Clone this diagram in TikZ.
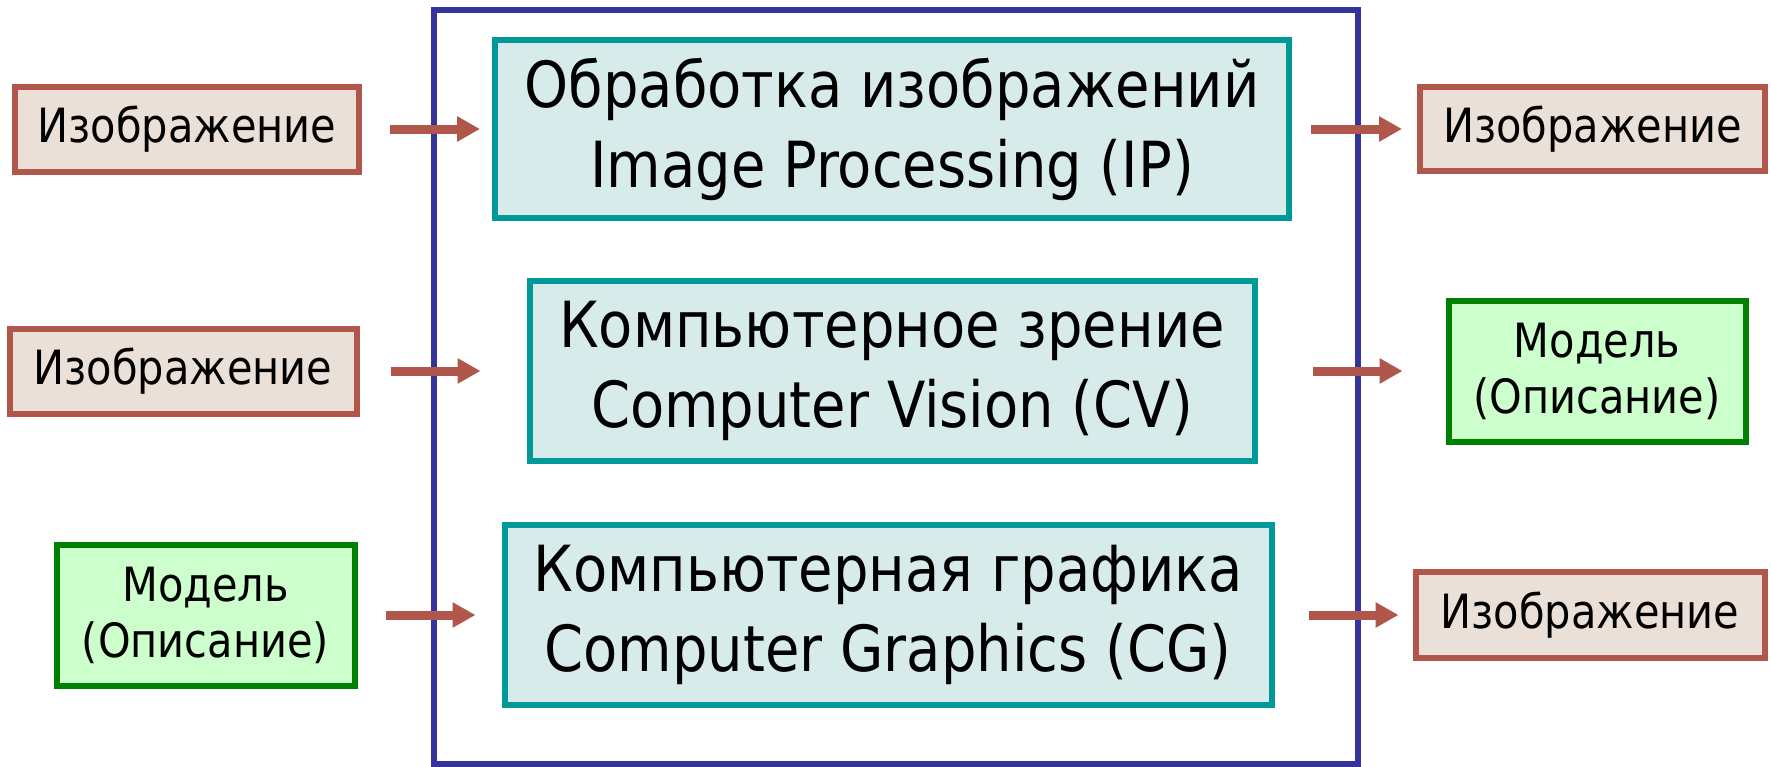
\documentclass[tikz,border=0pt]{standalone}
\usepackage{fontspec}
\setmainfont{DejaVu Sans}[FakeStretch=0.88]
\usetikzlibrary{positioning,arrows.meta}

\definecolor{brickred}{RGB}{176,86,74}
\definecolor{sandfill}{RGB}{235,224,216}
\definecolor{tealline}{RGB}{0,153,153}
\definecolor{tealfill}{RGB}{216,235,235}
\definecolor{greenline}{RGB}{0,128,0}
\definecolor{greenfill}{RGB}{204,255,204}
\definecolor{frameblue}{RGB}{51,51,153}

\tikzset{
  box/.style={draw, rectangle, inner sep=0pt, outer sep=0pt, line width=3pt, align=center},
  img/.style={box, draw=brickred, fill=sandfill, font=\fontsize{23.6pt}{29pt}\selectfont},
  model/.style={box, draw=greenline, fill=greenfill, font=\fontsize{23.6pt}{28pt}\selectfont,
    minimum width=149pt, minimum height=70.5pt},
  proc/.style={box, draw=tealline, fill=tealfill, font=\fontsize{31.8pt}{40pt}\selectfont,
    minimum height=90pt},
  frame/.style={draw=frameblue, line width=2.75pt, inner sep=0pt, outer sep=0pt},
  flow/.style={draw=brickred, line width=4.5pt, -{Triangle[length=11.5pt, width=12pt]}}
}

\begin{document}
\begin{tikzpicture}[x=0.5pt, y=-0.5pt]
    \useasboundingbox (0,0) rectangle (1771,766);
    \node[frame, minimum width=462pt, minimum height=377pt] (frame) at (896,387) {};

    \node[proc, minimum width=397pt, minimum height=89pt] (ip) at (892,129)
      {Обработка изображений\\Image Processing (IP)};
    \node[proc, minimum width=362.5pt, below=31.5pt of ip] (cv)
      {Компьютерное зрение\\Computer Vision (CV)};
    \node[proc, minimum width=383.5pt, below=32pt of cv, xshift=-2pt] (cg)
      {Компьютерная графика\\Computer Graphics (CG)};

    \node[img, minimum width=172pt, minimum height=42.5pt, left=68pt of ip] (imgin1) {Изображение};
    \node[img, minimum width=173.5pt, minimum height=42.5pt, left=86.5pt of cv] (imgin2) {Изображение};
    \node[model, left=75pt of cg] (modelin) {Модель\\(Описание)};

    \node[img, minimum width=172.5pt, minimum height=42pt, right=65.5pt of ip] (imgout1) {Изображение};
    \node[model, minimum width=148.5pt, right=97pt of cv] (modelout) {Модель\\(Описание)};
    \node[img, minimum width=174.5pt, minimum height=43pt, right=72pt of cg] (imgout3) {Изображение};

    \draw[flow, shorten <=15.5pt, shorten >=7.5pt] (imgin1) -- (ip);
    \draw[flow, shorten <=17pt, shorten >=24.5pt] (imgin2) -- (cv);
    \draw[flow, shorten <=15.5pt, shorten >=14.5pt] (modelin) -- (cg);
    \draw[flow, shorten <=11pt, shorten >=9pt] (ip) -- (imgout1);
    \draw[flow, shorten <=29pt, shorten >=23pt] (cv) -- (modelout);
    \draw[flow, shorten <=18.5pt, shorten >=8.5pt] (cg) -- (imgout3);
  \end{tikzpicture}
\end{document}
